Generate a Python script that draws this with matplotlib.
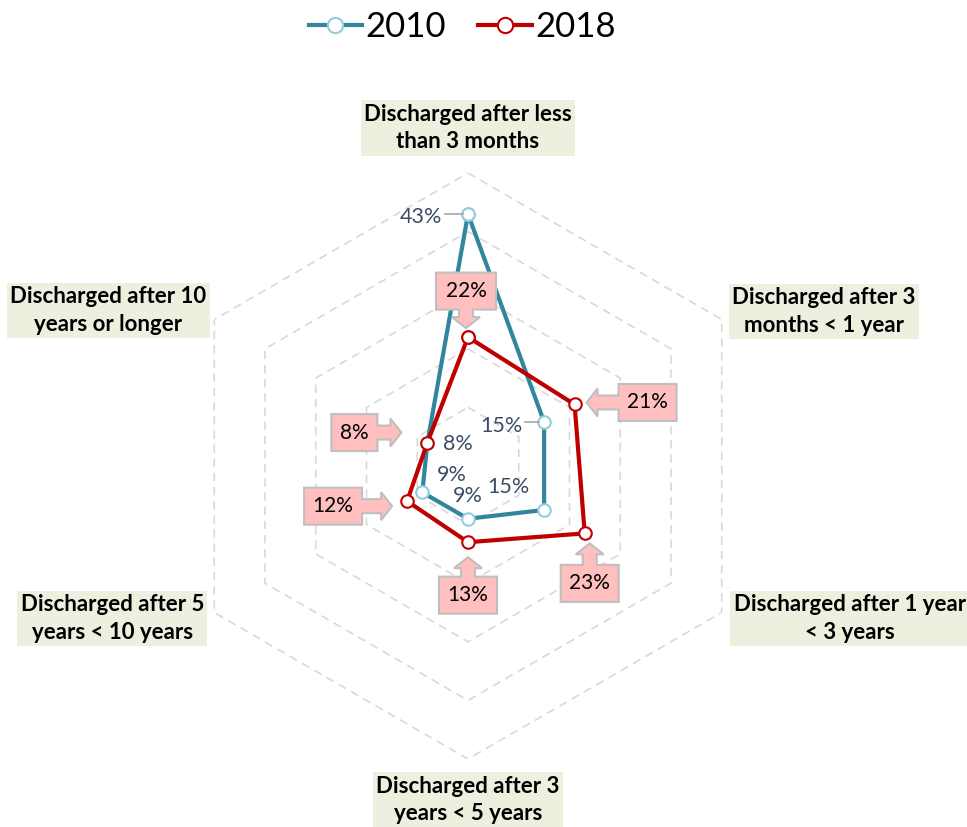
import numpy as np
import matplotlib
matplotlib.use("Agg")
import matplotlib.pyplot as plt
from matplotlib.lines import Line2D
from matplotlib.patches import Polygon

categories = [
    "Discharged after less\nthan 3 months",
    "Discharged after 3\nmonths < 1 year",
    "Discharged after 1 year\n< 3 years",
    "Discharged after 3\nyears < 5 years",
    "Discharged after 5\nyears < 10 years",
    "Discharged after 10\nyears or longer",
]
values_2010 = [0.43, 0.15, 0.15, 0.09, 0.09, 0.08]
values_2018 = [0.22, 0.21, 0.23, 0.13, 0.12, 0.08]
series_names = ["2010", "2018"]
ring_levels = [0.1, 0.2, 0.3, 0.4, 0.5]

C2010 = "#31859C"
C2010_MK = "#93CDDD"
C2018 = "#C00000"
LBL2010 = "#3B4C66"
GRID = "#D9D9D9"
CAT_BG = "#EBF1DE"
CALLOUT_FACE = "#FFBFBF"
CALLOUT_EDGE = "#BFBFBF"

FONT = "Lato"
W, H, DPI = 967, 827, 100
fig = plt.figure(figsize=(W / DPI, H / DPI), dpi=DPI)

cx, cy, R = 468, 466, 293  # centre and outer radius, pixels from top-left
ax = fig.add_axes([(cx - R) / W, (H - cy - R) / H, 2 * R / W, 2 * R / H],
                  projection="polar")
ax.set_theta_offset(np.pi / 2)
ax.set_theta_direction(-1)
ax.set_ylim(0, 0.5)
ax.grid(False)
ax.set_xticks([])
ax.set_yticks([])
ax.spines["polar"].set_visible(False)
ax.patch.set_alpha(0)

n = len(categories)
theta = np.arange(n) * 2 * np.pi / n
theta_closed = np.append(theta, theta[0])

# hexagonal grid rings
for lv in ring_levels:
    ax.plot(theta_closed, [lv] * (n + 1), color=GRID, lw=1.2,
            linestyle=(0, (5, 3.5)), zorder=1)

def closed(v):
    return list(v) + [v[0]]

ax.plot(theta_closed, closed(values_2010), color=C2010, lw=3, zorder=3,
        marker="o", ms=9, mfc="white", mec=C2010_MK, mew=1.5)
ax.plot(theta_closed, closed(values_2018), color=C2018, lw=3, zorder=4,
        marker="o", ms=9, mfc="white", mec=C2018, mew=1.5)

# category labels, offsets in pixels from the outer ring vertex
cat_offsets = [(0, 45), (102, 8), (128, -6), (0, -41), (-102, -6), (-106, 9)]
for t, lab, (dx, dy) in zip(theta, categories, cat_offsets):
    ax.annotate(lab, xy=(t, 0.5), xytext=(dx * 72 / DPI, dy * 72 / DPI),
                textcoords="offset points", ha="center", va="center",
                fontsize=16, fontweight="bold", family=FONT,
                linespacing=1.38, zorder=5, annotation_clip=False,
                bbox=dict(boxstyle="square,pad=0.15", fc=CAT_BG, ec="none"))

# 2010 value labels: (text offset px, y up; leader line?)
lab2010 = [((-47, -3), True), ((-43, -4), True), ((-36, 23), False),
           ((0, 23), False), ((29, 17), False), ((30, -1), False)]
fig.canvas.draw()
to_px = ax.transData.transform
for t, v, ((dx, dy), lead) in zip(theta, values_2010, lab2010):
    ax.annotate(f"{round(v * 100)}%", xy=(t, v),
                xytext=(dx * 72 / DPI, dy * 72 / DPI), textcoords="offset points",
                ha="center", va="center", fontsize=15.5, family=FONT,
                color=LBL2010, zorder=6, annotation_clip=False)
    if lead:
        px, py = to_px((t, v))
        x0 = px + dx + 24
        fig.add_artist(Line2D([x0, px - 5], [py, py], color="#A6A6A6", lw=1.2,
                              transform=None, zorder=5))

# 2018 callouts: box centre offset (px, y up), box width, arrow direction
call2018 = [((-2, 46), 60, "down"), ((73, 2), 58, "left"), ((5, -50), 58, "up"),
            ((0, -53), 58, "up"), ((-74, -5), 58, "right"), ((-73, 10), 46, "right")]
BOX_H = 37
HEAD_HW, SHAFT_HW, HEAD_L = 14, 7, 11

def callout_poly(px, py, bx, by, bw, bh, direction, tip_gap):
    # rectangular callout with a block arrow pointing toward (px, py)
    hw, hh = bw / 2, bh / 2
    if direction in ("down", "up"):
        s = 1 if direction == "down" else -1
        far = by + s * hh
        edge = by - s * hh
        tip = py + s * tip_gap
        neck = tip + s * HEAD_L
        pts = [(bx - hw, far), (bx + hw, far), (bx + hw, edge),
               (bx + SHAFT_HW, edge), (bx + SHAFT_HW, neck), (bx + HEAD_HW, neck),
               (bx, tip), (bx - HEAD_HW, neck), (bx - SHAFT_HW, neck),
               (bx - SHAFT_HW, edge), (bx - hw, edge)]
    else:
        s = 1 if direction == "left" else -1
        far = bx + s * hw
        edge = bx - s * hw
        tip = px + s * tip_gap
        neck = tip + s * HEAD_L
        pts = [(far, by - hh), (far, by + hh), (edge, by + hh),
               (edge, by + SHAFT_HW), (neck, by + SHAFT_HW), (neck, by + HEAD_HW),
               (tip, by), (neck, by - HEAD_HW), (neck, by - SHAFT_HW),
               (edge, by - SHAFT_HW), (edge, by - hh)]
    return pts

tip_gaps = [9, 12, 10, 15, 15, 26]
for t, v, ((dx, dy), bw, d), g in zip(theta, values_2018, call2018, tip_gaps):
    px, py = to_px((t, v))
    bx, by = px + dx, py + dy
    poly = Polygon(callout_poly(px, py, bx, by, bw, BOX_H, d, g), closed=True,
                   fc=CALLOUT_FACE, ec=CALLOUT_EDGE, lw=1.5, transform=None,
                   zorder=5)
    fig.add_artist(poly)
    fig.text(bx / W, by / H, f"{round(v * 100)}%", ha="center", va="center",
             fontsize=15, family=FONT, color="black", zorder=6)

handles = [
    Line2D([], [], color=C2010, lw=3, marker="o", ms=11, mfc="white",
           mec=C2010_MK, mew=1.5),
    Line2D([], [], color=C2018, lw=3, marker="o", ms=11, mfc="white",
           mec=C2018, mew=1.5),
]
fig.legend(handles, series_names, loc="center", bbox_to_anchor=(462 / W, 1 - 27 / H),
           ncol=2, frameon=False, prop={"family": FONT, "size": 25},
           handlelength=1.55, handletextpad=0.1, columnspacing=0.9)

fig.savefig("out.png", dpi=DPI)
